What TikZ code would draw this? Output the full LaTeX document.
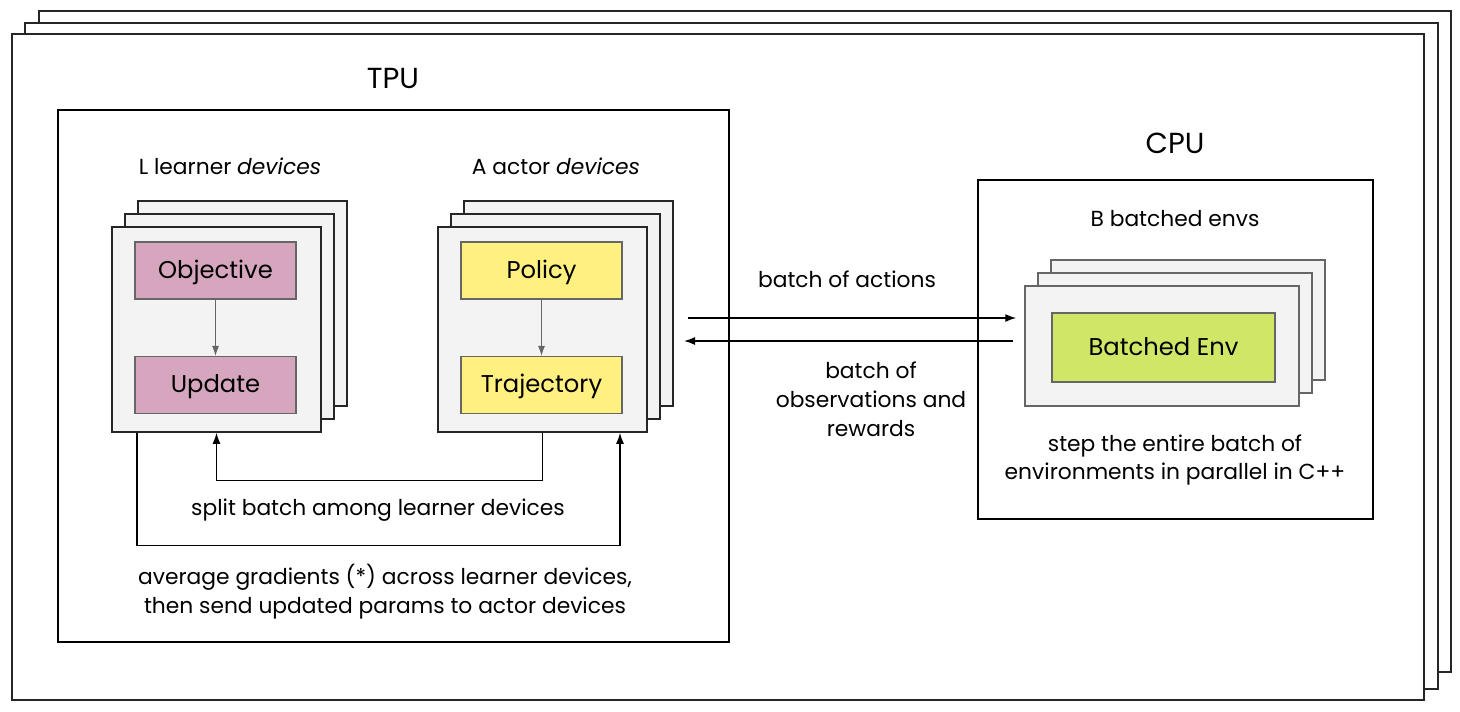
\documentclass[tikz,border=0pt]{standalone}
\usepackage{fontspec}
\setmainfont{Poppins}
\usetikzlibrary{arrows.meta}
\definecolor{pinkbox}{HTML}{D5A6BD}
\definecolor{yellowbox}{HTML}{FFF07F}
\definecolor{greenbox}{HTML}{CFE667}
\definecolor{devfill}{HTML}{F3F3F3}
\definecolor{edgegrey}{HTML}{666666}
\tikzset{
  frame/.style={draw=black!85, line width=1.1pt, fill=white},
  dev/.style={draw=black!85, line width=0.9pt, fill=devfill, inner sep=0pt},
  env/.style={draw=edgegrey, line width=0.9pt, fill=devfill, inner sep=0pt},
  comp/.style={draw=edgegrey, line width=0.7pt, inner sep=0pt,
    text height=1em, text depth=0.14em,
    minimum width=3.22cm, minimum height=1.14cm, font=\fontsize{13.8}{16}\selectfont},
  lbl/.style={font=\fontsize{12.4}{16.4}\selectfont, align=center},
  head/.style={font=\fontsize{16.5}{19}\selectfont},
  flow/.style={-{Latex[length=2.2mm,width=1.6mm]}, line width=0.8pt},
  thin/.style={-{Latex[length=2mm,width=1.4mm]}, line width=0.6pt, draw=edgegrey}
}
\begin{document}
\begin{tikzpicture}[x=0.02cm, y=-0.02cm]
\useasboundingbox (0,0) rectangle (1460,711);
% outer stack
\draw[frame] (39,11) rectangle (1451,672);
\draw[frame] (25,23) rectangle (1438,689);
\draw[frame] (12,34) rectangle (1424,700);
% TPU
\draw[line width=0.9pt] (58,110) rectangle (729,642);
\node[head] (tpu) at (393,78) {TPU};
\node[lbl] (lrnlbl) at (230,166) {L learner \textit{devices}};
\node[lbl] (actlbl) at (556,166) {A actor \textit{devices}};
% learner devices
\foreach \d in {26,13}
  \draw[dev] (112+\d,227-\d) rectangle (321+\d,432-\d);
\node[dev, minimum width=4.18cm, minimum height=4.1cm] (lrn) at (216.5,329.5) {};
\node[comp, fill=pinkbox] (obj) at (215.5,270.5) {Objective};
\node[comp, fill=pinkbox] (upd) at (215.5,385) {Update};
\draw[thin] (obj) -- (upd);
% actor devices
\foreach \d in {26,13}
  \draw[dev] (438+\d,227-\d) rectangle (647+\d,432-\d);
\node[dev, minimum width=4.18cm, minimum height=4.1cm] (act) at (542.5,329.5) {};
\node[comp, fill=yellowbox] (pol) at (541.5,270.5) {Policy};
\node[comp, fill=yellowbox] (traj) at (541.5,385) {Trajectory};
\draw[thin] (pol) -- (traj);
% loops between devices
\draw[flow] (act.south) -- ++(0,48) -| (lrn.south);
\node[lbl] (split) at (378,510) {split batch among learner devices};
\draw[flow] ([xshift=-1.59cm]lrn.south) -- ++(0,113) -| ([xshift=1.55cm]act.south);
\node[lbl] (avg) at (385,592) {average gradients (*) across learner devices,\\then send updated params to actor devices};
% CPU
\draw[line width=0.9pt] (978,180) rectangle (1373,519);
\node[head] (cpu) at (1175,143) {CPU};
\node[lbl] (envlbl) at (1175,219) {B batched envs};
\foreach \d in {26,13}
  \draw[env] (1025+\d,286-\d) rectangle (1299+\d,406-\d);
\node[env, minimum width=5.48cm, minimum height=2.4cm] (envs) at (1162,346) {};
\node[comp, fill=greenbox, minimum width=4.46cm, minimum height=1.38cm] (benv) at (1163.5,347.5) {Batched Env};
\node[lbl] (step) at (1175,460) {step the entire batch of\\environments in parallel in C++};
% traffic
\coordinate (tpuout) at (688,318);
\coordinate (tpuin) at (684,341);
\draw[flow] (tpuout) -- ([xshift=-0.16cm]tpuout -| envs.west);
\draw[flow] ([xshift=-0.22cm]tpuin -| envs.west) -- (tpuin);
\node[lbl] (acts) at (847,279) {batch of actions};
\node[lbl] (obs) at (871,399) {batch of\\observations and\\rewards};
\end{tikzpicture}
\end{document}
